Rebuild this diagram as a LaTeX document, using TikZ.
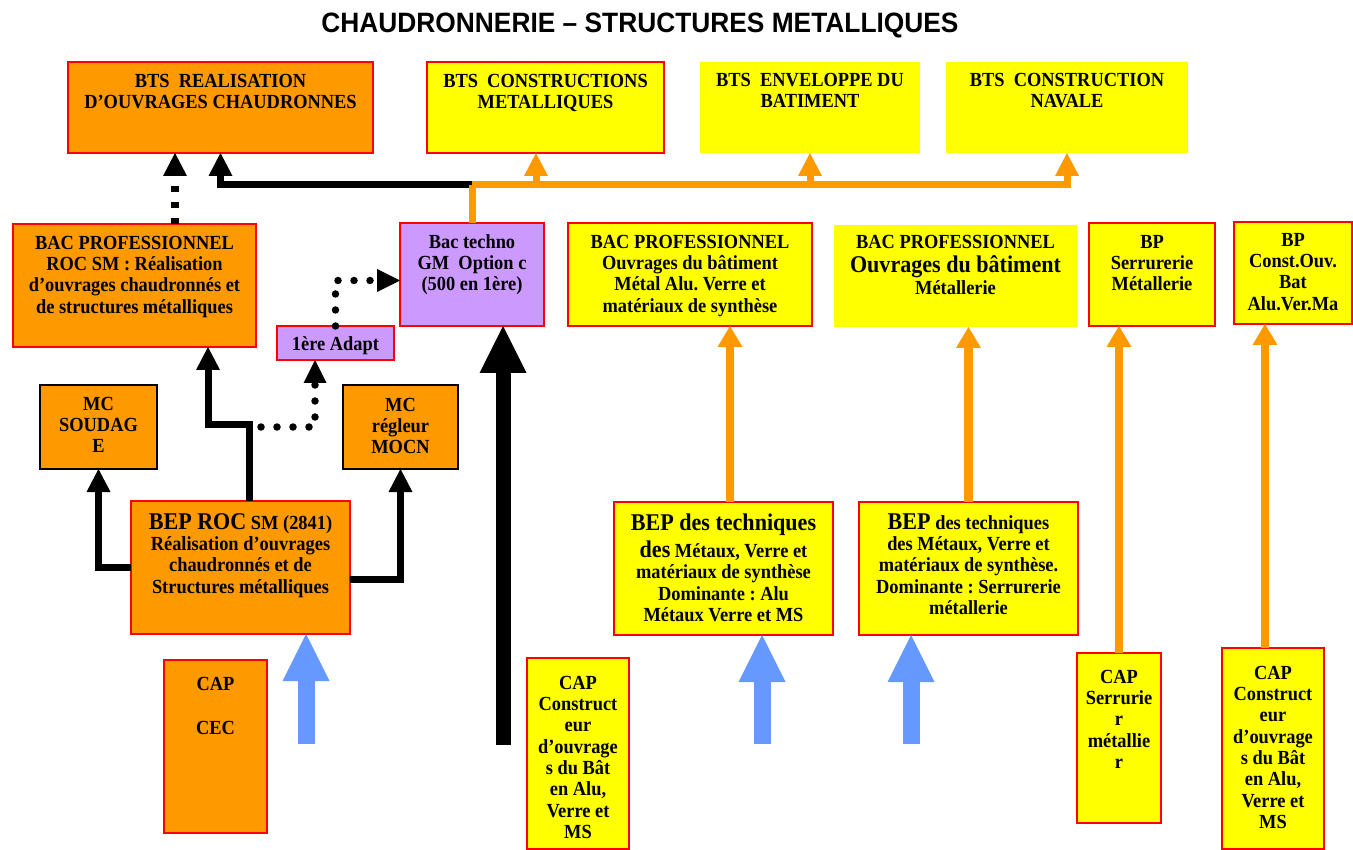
\documentclass[tikz,border=0pt]{standalone}
\usepackage{fontspec}
\setmainfont{Liberation Serif}[FakeStretch=0.92]
\newfontfamily\titlef{Liberation Sans}[FakeStretch=0.94]
\usetikzlibrary{arrows.meta}
\definecolor{orF}{HTML}{FF9900}
\definecolor{yeF}{HTML}{FFFF00}
\definecolor{puF}{HTML}{CC99FF}
\definecolor{blA}{HTML}{6699FF}
\frenchspacing
\newcommand\fsn{\fontsize{20}{21.3}\selectfont\bfseries\frenchspacing}
\newcommand\fsl{\fontsize{24}{21.3}\selectfont}
\newcommand\myfirst{\rule{0pt}{15pt}}
\newcommand\mybig{\rule{0pt}{18pt}}
\tikzset{
  bx/.style={draw=red, line width=2.5pt, inner sep=0pt, outer sep=0pt, anchor=north west},
  bxo/.style={bx, fill=orF},
  bxy/.style={bx, fill=yeF},
  bxp/.style={bx, fill=puF},
  sz/.style 2 args={minimum width=#1pt, minimum height=#2pt},
  txt/.style={anchor=north, align=center, inner sep=0pt, font=\fsn, text=black},
  tipS/.style={-{Triangle[width=24pt,length=23pt,line width=0pt]}},
  tipL/.style={-{Triangle[width=25pt,length=21pt,line width=0pt]}},
  tipD/.style={-{Triangle[width=23pt,length=23pt,line width=0pt]}},
  tipB/.style={-{Triangle[width=47pt,length=47pt,line width=0pt]}},
  blk/.style={draw=black, line width=7pt},
  orl/.style={draw=orF, line width=7pt},
  orv/.style={draw=orF, line width=8.5pt, tipL},
  sqdash/.style={draw=black, line width=8pt, dash pattern=on 6pt off 10pt},
  dots/.style={draw=black, line width=7.5pt, line cap=round, dash pattern=on 0pt off 16pt},
  bigblk/.style={draw=black, line width=15pt, tipB},
  blu/.style={draw=blA, line width=17pt, tipB},
}
\begin{document}
\begin{tikzpicture}[x=1pt, y=-1pt]
\useasboundingbox (0,0) rectangle (1353,850);

\node[font=\titlef\fontsize{28}{30}\selectfont\bfseries, anchor=base, inner sep=0pt] (title) at (640,33) {CHAUDRONNERIE – STRUCTURES METALLIQUES};

% ---- boxes ----
\node[bxo, sz={305}{91}] (bts1) at (68,62) {};
\node[bxy, sz={237}{91}] (bts2) at (427,62) {};
\node[bxy, draw=none, sz={220}{91}] (btsenv) at (700,62) {};
\node[bxy, draw=none, sz={242}{91}] (btsnav) at (946,62) {};
\node[bxo, sz={243}{123}] (bacroc) at (13,224) {};
\node[bxp, sz={144}{103}] (btech) at (400,223) {};
\node[bxp, sz={117}{34}] (adapt) at (277,326) {};
\node[bxy, sz={244}{103}] (bpalu) at (568,223) {};
\node[bxy, draw=none, sz={243}{102}] (bpmet) at (834,225) {};
\node[bxy, sz={126}{103}] (bpserr) at (1089,223) {};
\node[bxy, sz={118}{102}] (bpconst) at (1234,222) {};
\node[bxo, draw=black, sz={117}{84}] (mcsoud) at (40,385) {};
\node[bxo, draw=black, sz={115}{84}] (mcreg) at (343,385) {};
\node[bxo, sz={219}{133}] (beproc) at (131,501) {};
\node[bxy, sz={219}{133}] (bepalu) at (614,502) {};
\node[bxy, sz={219}{133}] (bepserr) at (859,502) {};
\node[bxo, sz={103}{173}] (capcec) at (164,660) {};
\node[bxy, sz={102}{191}] (capmid) at (527,658) {};
\node[bxy, sz={84}{170}] (capserr) at (1077,653) {};
\node[bxy, sz={102}{201}] (capright) at (1222,648) {};

% ---- texts ----
\node[txt] (t-bts1) at ([yshift=-10pt]bts1.north) {\myfirst BTS\ \ REALISATION\\D’OUVRAGES CHAUDRONNES};
\node[txt] (t-bts2) at ([yshift=-10pt]bts2.north) {\myfirst BTS\ \ CONSTRUCTIONS\\METALLIQUES};
\node[txt] (t-btsenv) at ([yshift=-9pt]btsenv.north) {\myfirst BTS\ \ ENVELOPPE DU\\BATIMENT};
\node[txt] (t-btsnav) at ([yshift=-9pt]btsnav.north) {\myfirst BTS\ \ CONSTRUCTION\\NAVALE};
\node[txt] (t-bacroc) at ([yshift=-10pt]bacroc.north) {\myfirst BAC PROFESSIONNEL\\ROC SM : Réalisation\\d’ouvrages chaudronnés et\\de structures métalliques};
\node[txt] (t-btech) at ([yshift=-10pt]btech.north) {\myfirst Bac techno\\GM\ \ Option c\\(500 en 1ère)};
\node[txt] (t-adapt) at ([yshift=-9pt]adapt.north) {\myfirst 1ère Adapt};
\node[txt] (t-bpalu) at ([yshift=-10pt]bpalu.north) {\myfirst BAC PROFESSIONNEL\\Ouvrages du bâtiment\\Métal Alu. Verre et\\matériaux de synthèse};
\node[txt] (t-bpmet) at ([yshift=-8pt]bpmet.north) {\myfirst BAC PROFESSIONNEL\\[3.5pt]{\fsl Ouvrages du bâtiment}\\Métallerie};
\node[txt] (t-bpserr) at ([yshift=-10pt]bpserr.north) {\myfirst BP\\Serrurerie\\Métallerie};
\node[txt] (t-bpconst) at ([yshift=-9pt]bpconst.north) {\myfirst BP\\Const.Ouv.\\Bat\\Alu.Ver.Ma};
\node[txt] (t-mcsoud) at ([yshift=-10pt]mcsoud.north) {\myfirst MC\\SOUDAG\\E};
\node[txt] (t-mcreg) at ([yshift=-11pt]mcreg.north) {\myfirst MC\\régleur\\MOCN};
\node[txt] (t-beproc) at ([yshift=-10pt]beproc.north) {\mybig{\fsl BEP ROC} SM (2841)\\Réalisation d’ouvrages\\chaudronnés et de\\Structures métalliques};
\node[txt] (t-bepalu) at ([yshift=-10pt]bepalu.north) {\mybig{\fsl BEP des techniques}\\[4.5pt]{\fsl des} Métaux, Verre et\\matériaux de synthèse\\Dominante : Alu\\Métaux Verre et MS};
\node[txt] (t-bepserr) at ([yshift=-9pt]bepserr.north) {\mybig{\fsl BEP} des techniques\\des Métaux, Verre et\\matériaux de synthèse.\\Dominante : Serrurerie\\métallerie};
\node[txt] (t-capcec) at ([yshift=-15pt]capcec.north) {\myfirst CAP\\[22.7pt]CEC};
\node[txt] (t-capmid) at ([yshift=-16pt]capmid.north) {\myfirst CAP\\Construct\\eur\\d’ouvrage\\s du Bât\\en Alu,\\Verre et\\MS};
\node[txt] (t-capserr) at ([yshift=-15pt]capserr.north) {\myfirst CAP\\Serrurie\\r\\métallie\\r};
\node[txt] (t-capright) at ([yshift=-16pt]capright.north) {\myfirst CAP\\Construct\\eur\\d’ouvrage\\s du Bât\\en Alu,\\Verre et\\MS};

% ---- connectors: top row ----
\coordinate (j) at (btech.north |- 0,185);
\draw[blk, tipS] (j) -| (bts1.south);
\draw[orl, tipS] (j) -| ([xshift=-9.5pt]bts2.south);
\draw[orl, tipS] (j) -| (btsenv.south);
\draw[orl, tipS] (j) -| (btsnav.south);
\draw[orl] (btech.north) -- (j);
\draw[sqdash, tipS] ([xshift=40.5pt]bacroc.north) -- ([xshift=40.5pt]bacroc.north |- bts1.south);

% ---- BEP ROC connectors ----
\draw[blk, tipS] (beproc.west) -| (mcsoud.south);
\draw[blk, tipS] ([yshift=-11.5pt]beproc.east) -| (mcreg.south);
\draw[blk, tipS] ([xshift=9pt]beproc.north) -- ++(0,-76) -| ([xshift=73.5pt]bacroc.south);

% ---- dotted ----
\coordinate (d1) at (261,427);
\draw[dots, tipD] (d1) -| ([xshift=-20.5pt]adapt.south);
\draw[dots, tipD] (adapt.north) |- ([yshift=-6pt]btech.west);

% ---- big black arrow ----
\coordinate (bb) at (503,745);
\draw[bigblk] (bb) -- (bb |- btech.south);

% ---- blue arrows ----
\coordinate (b1) at (306,744);
\coordinate (b2) at (762,744);
\coordinate (b3) at (911,744);
\draw[blu] (b1) -- (b1 |- beproc.south);
\draw[blu] (b2) -- (b2 |- bepalu.south);
\draw[blu] (b3) -- (b3 |- bepserr.south);

% ---- orange verticals ----
\draw[orv] ([xshift=6.5pt]bepalu.north) -- ([xshift=6.5pt]bepalu.north |- bpalu.south);
\draw[orv] (bepserr.north) -- (bepserr.north |- bpmet.south);
\draw[orv] (capserr.north) -- (capserr.north |- bpserr.south);
\draw[orv] ([xshift=-8pt]capright.north) -- ([xshift=-8pt]capright.north |- bpconst.south);
\end{tikzpicture}
\end{document}
